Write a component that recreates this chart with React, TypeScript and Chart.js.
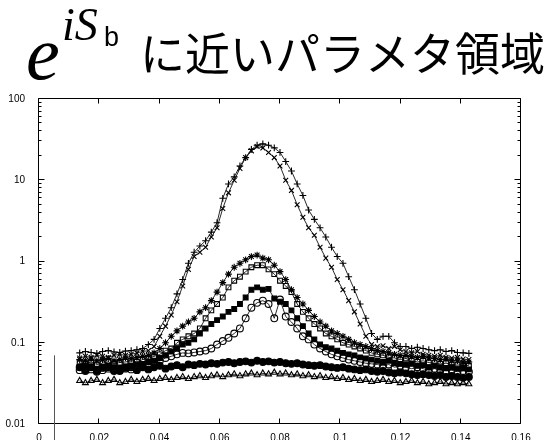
import React, { useEffect, useRef } from "react";
import { Chart, registerables } from "chart.js";

Chart.register(...registerables);

// x positions of the samples
const XS = [
  0.0135, 0.0154, 0.0173, 0.0192, 0.0211, 0.023, 0.0249, 0.0268, 0.0287, 0.0306,
  0.0325, 0.0344, 0.0363, 0.0382, 0.0401, 0.042, 0.0439, 0.0458, 0.0477, 0.0496,
  0.0515, 0.0534, 0.0553, 0.0572, 0.0591, 0.061, 0.0629, 0.0648, 0.0667, 0.0686,
  0.0705, 0.0724, 0.0743, 0.0762, 0.0781, 0.08, 0.0819, 0.0838, 0.0857, 0.0876,
  0.0895, 0.0914, 0.0933, 0.0952, 0.0971, 0.099, 0.1009, 0.1028, 0.1047, 0.1066,
  0.1085, 0.1104, 0.1123, 0.1142, 0.1161, 0.118, 0.1199, 0.1218, 0.1237, 0.1256,
  0.1275, 0.1294, 0.1313, 0.1332, 0.1351, 0.137, 0.1389, 0.1408, 0.1427,
];

const S_PLUS = [
  0.075, 0.078, 0.076, 0.074, 0.078, 0.08, 0.077, 0.076, 0.079, 0.08,
  0.082, 0.085, 0.095, 0.11, 0.15, 0.2, 0.27, 0.4, 0.6, 0.95,
  1.3, 1.55, 1.8, 2.3, 3.0, 6, 9, 11, 15, 19,
  24, 27, 28, 27, 25, 22, 17, 13, 9, 6.5,
  4.3, 3.3, 2.6, 2.0, 1.5, 1.15, 0.95, 0.65, 0.45, 0.3,
  0.2, 0.13, 0.11, 0.12, 0.12, 0.1, 0.09, 0.09, 0.085, 0.088,
  0.085, 0.082, 0.08, 0.082, 0.078, 0.08, 0.076, 0.075, 0.074,
];

const S_CROSS = [
  0.065, 0.068, 0.066, 0.07, 0.068, 0.066, 0.07, 0.072, 0.07, 0.072,
  0.075, 0.078, 0.08, 0.09, 0.12, 0.16, 0.22, 0.32, 0.5, 0.8,
  1.15, 1.3, 1.5, 2.0, 2.6, 4.5, 7, 10, 14, 19,
  23, 26, 25, 22, 19, 15, 10, 7.5, 5, 3.5,
  2.6, 2.1, 1.5, 1.1, 0.85, 0.6, 0.45, 0.33, 0.24, 0.17,
  0.12, 0.095, 0.09, 0.092, 0.085, 0.09, 0.082, 0.078, 0.075, 0.078,
  0.072, 0.07, 0.068, 0.07, 0.066, 0.065, 0.066, 0.063, 0.062,
];

const S_STAR = [
  0.062, 0.06, 0.063, 0.06, 0.062, 0.064, 0.06, 0.062, 0.065, 0.064,
  0.066, 0.068, 0.07, 0.075, 0.085, 0.1, 0.12, 0.14, 0.16, 0.18,
  0.2, 0.24, 0.27, 0.33, 0.42, 0.55, 0.7, 0.85, 0.95, 1.05,
  1.15, 1.2, 1.1, 1.05, 0.9, 0.75, 0.6, 0.45, 0.36, 0.3,
  0.25, 0.21, 0.18, 0.16, 0.14, 0.13, 0.12, 0.11, 0.1, 0.095,
  0.09, 0.085, 0.08, 0.078, 0.075, 0.072, 0.07, 0.07, 0.068, 0.066,
  0.068, 0.065, 0.064, 0.062, 0.063, 0.06, 0.06, 0.058, 0.058,
];

const S_OPEN_SQUARE = [
  0.056, 0.055, 0.058, 0.054, 0.056, 0.058, 0.055, 0.057, 0.058, 0.06,
  0.058, 0.062, 0.064, 0.068, 0.072, 0.08, 0.085, 0.1, 0.11, 0.12,
  0.13, 0.15, 0.2, 0.25, 0.3, 0.36, 0.48, 0.58, 0.65, 0.75,
  0.85, 0.9, 0.9, 0.8, 0.7, 0.58, 0.5, 0.42, 0.3, 0.24,
  0.2, 0.17, 0.15, 0.13, 0.12, 0.11, 0.1, 0.095, 0.09, 0.085,
  0.08, 0.075, 0.072, 0.07, 0.066, 0.065, 0.062, 0.064, 0.06, 0.058,
  0.06, 0.057, 0.056, 0.055, 0.056, 0.054, 0.053, 0.054, 0.052,
];

const S_FILLED_SQUARE = [
  0.05, 0.052, 0.05, 0.048, 0.05, 0.052, 0.05, 0.049, 0.051, 0.052,
  0.054, 0.055, 0.058, 0.06, 0.065, 0.07, 0.078, 0.085, 0.095, 0.1,
  0.11, 0.13, 0.15, 0.17, 0.19, 0.21, 0.24, 0.26, 0.3, 0.36,
  0.45, 0.48, 0.45, 0.46, 0.35, 0.32, 0.3, 0.25, 0.2, 0.16,
  0.13, 0.11, 0.095, 0.088, 0.085, 0.08, 0.075, 0.072, 0.07, 0.066,
  0.064, 0.062, 0.06, 0.058, 0.06, 0.056, 0.055, 0.054, 0.055, 0.052,
  0.053, 0.05, 0.052, 0.05, 0.049, 0.05, 0.048, 0.049, 0.047,
];

const S_OPEN_CIRCLE = [
  0.046, 0.045, 0.047, 0.044, 0.046, 0.048, 0.045, 0.046, 0.048, 0.047,
  0.05, 0.052, 0.055, 0.058, 0.06, 0.065, 0.068, 0.072, 0.075, 0.074,
  0.076, 0.078, 0.08, 0.085, 0.095, 0.105, 0.115, 0.13, 0.15, 0.2,
  0.27, 0.31, 0.33, 0.3, 0.2, 0.34, 0.21, 0.18, 0.15, 0.12,
  0.11, 0.095, 0.085, 0.078, 0.072, 0.068, 0.065, 0.062, 0.06, 0.058,
  0.056, 0.055, 0.054, 0.052, 0.054, 0.05, 0.052, 0.05, 0.048, 0.05,
  0.048, 0.046, 0.048, 0.046, 0.045, 0.046, 0.044, 0.045, 0.044,
];

const S_FILLED_CIRCLE = [
  0.05, 0.046, 0.05, 0.045, 0.049, 0.05, 0.046, 0.045, 0.049, 0.05,
  0.046, 0.05, 0.047, 0.05, 0.052, 0.048, 0.051, 0.053, 0.05, 0.054,
  0.053, 0.055, 0.054, 0.056, 0.055, 0.057, 0.058, 0.056, 0.058, 0.059,
  0.057, 0.06, 0.058, 0.059, 0.057, 0.058, 0.056, 0.055, 0.056, 0.054,
  0.053, 0.052, 0.053, 0.051, 0.05, 0.049, 0.05, 0.048, 0.047, 0.046,
  0.047, 0.045, 0.044, 0.045, 0.043, 0.042, 0.043, 0.042, 0.041, 0.04,
  0.041, 0.04, 0.039, 0.04, 0.038, 0.039, 0.038, 0.037, 0.038,
];

const S_TRIANGLE = [
  0.034, 0.032, 0.034, 0.035, 0.032, 0.034, 0.035, 0.032, 0.033, 0.035,
  0.033, 0.035, 0.036, 0.034, 0.036, 0.037, 0.035, 0.037, 0.038, 0.036,
  0.038, 0.039, 0.037, 0.039, 0.04, 0.038, 0.04, 0.041, 0.039, 0.041,
  0.042, 0.04, 0.042, 0.041, 0.043, 0.041, 0.042, 0.04, 0.041, 0.039,
  0.04, 0.038, 0.039, 0.037, 0.038, 0.036, 0.037, 0.035, 0.036, 0.034,
  0.035, 0.033, 0.034, 0.035, 0.033, 0.034, 0.032, 0.033, 0.034, 0.032,
  0.033, 0.031, 0.032, 0.033, 0.031, 0.032, 0.031, 0.032, 0.031,
];

const X_TICKS = [0, 0.02, 0.04, 0.06, 0.08, 0.1, 0.12, 0.14, 0.16];
const Y_TICKS = [0.01, 0.1, 1, 10, 100];
const Y_MINOR_FACTORS = [2, 3, 4, 5, 6, 7, 8, 9];

// stray vertical stroke seen near the lower-left of the original
const STRAY_X = 0.0053;
const STRAY_TOP = 0.07;

const TITLE_BASE = "e";
const TITLE_SUP = "iS";
const TITLE_SUB = "b";
const TITLE_TEXT = "に近いパラメタ領域";

const SERIES = [
  { data: S_PLUS, style: "cross", fill: false },
  { data: S_CROSS, style: "crossRot", fill: false },
  { data: S_STAR, style: "star", fill: false },
  { data: S_OPEN_SQUARE, style: "rect", fill: false },
  { data: S_FILLED_SQUARE, style: "rect", fill: true },
  { data: S_OPEN_CIRCLE, style: "circle", fill: false },
  { data: S_FILLED_CIRCLE, style: "circle", fill: true },
  { data: S_TRIANGLE, style: "triangle", fill: false },
];

const fmt = (v: number) => String(Number(Number(v).toFixed(3)));

const framePlugin = {
  id: "gnuplotFrame",
  afterDraw(chart: any) {
    const { ctx, chartArea, scales } = chart;
    const x = scales.x;
    const y = scales.y;
    const L = Math.round(chartArea.left) - 0.5;
    const R = Math.round(chartArea.right) - 0.5;
    const T = Math.round(chartArea.top) - 0.5;
    const B = Math.round(chartArea.bottom) - 0.5;
    ctx.save();
    ctx.strokeStyle = "#000";
    ctx.lineWidth = 1;
    ctx.beginPath();
    ctx.rect(L, T, R - L, B - T);
    Y_TICKS.forEach((d) => {
      const p = Math.round(y.getPixelForValue(d)) - 0.5;
      ctx.moveTo(L, p);
      ctx.lineTo(L + 6, p);
      ctx.moveTo(R, p);
      ctx.lineTo(R - 6, p);
      if (d < 100) {
        Y_MINOR_FACTORS.forEach((m) => {
          const q = Math.round(y.getPixelForValue(d * m)) - 0.5;
          ctx.moveTo(L, q);
          ctx.lineTo(L + 3, q);
          ctx.moveTo(R, q);
          ctx.lineTo(R - 3, q);
        });
      }
    });
    X_TICKS.forEach((v) => {
      const p = Math.round(x.getPixelForValue(v)) - 0.5;
      ctx.moveTo(p, B);
      ctx.lineTo(p, B - 5);
      ctx.moveTo(p, T);
      ctx.lineTo(p, T + 5);
    });
    ctx.stroke();

    ctx.strokeStyle = "#555";
    ctx.beginPath();
    const sx = Math.round(x.getPixelForValue(STRAY_X)) - 0.5;
    ctx.moveTo(sx, y.getPixelForValue(STRAY_TOP));
    ctx.lineTo(sx, chart.height);
    ctx.stroke();

    ctx.fillStyle = "#000";
    ctx.textBaseline = "alphabetic";
    ctx.textAlign = "left";
    ctx.font = 'italic 76px "Liberation Serif", serif';
    ctx.fillText(TITLE_BASE, 26, 79);
    ctx.font = 'italic 46px "Liberation Serif", serif';
    ctx.fillText(TITLE_SUP, 62, 40);
    ctx.font = '27px "Liberation Sans", sans-serif';
    ctx.fillText(TITLE_SUB, 104, 46);
    ctx.font = '45px "Noto Sans CJK JP", sans-serif';
    ctx.fillText(TITLE_TEXT, 140, 71);
    ctx.restore();
  },
};

export default function App() {
  const ref = useRef<HTMLCanvasElement | null>(null);

  useEffect(() => {
    if (!ref.current) return;
    const datasets = SERIES.map((s) => ({
      data: XS.map((xv, i) => ({ x: xv, y: s.data[i] })),
      showLine: true,
      borderColor: "#111",
      borderWidth: 0.9,
      tension: 0,
      pointStyle: s.style,
      pointRadius: 3.4,
      pointBorderColor: "#000",
      pointBorderWidth: 1.1,
      pointBackgroundColor: s.fill ? "#000" : "rgba(0,0,0,0)",
    }));
    const tickFont = { family: '"Liberation Sans", Arial, sans-serif', size: 10 };
    const chart = new Chart(ref.current, {
      type: "line",
      data: { datasets: datasets as any },
      options: {
        responsive: false,
        animation: false,
        devicePixelRatio: 1,
        layout: { padding: { top: 99, right: 35, left: 0, bottom: 0 } },
        plugins: {
          legend: { display: false },
          tooltip: { enabled: false },
          title: { display: false },
        },
        scales: {
          x: {
            type: "linear",
            min: 0,
            max: 0.16,
            grid: { display: false },
            border: { display: false },
            afterBuildTicks: (s: any) => {
              s.ticks = X_TICKS.map((v) => ({ value: v }));
            },
            afterFit: (s: any) => {
              s.height = 16;
            },
            ticks: {
              padding: 0,
              color: "#000",
              font: tickFont,
              maxRotation: 0,
              autoSkip: false,
              callback: (v: any) => fmt(v),
            },
          },
          y: {
            type: "logarithmic",
            min: 0.01,
            max: 100,
            grid: { display: false },
            border: { display: false },
            afterBuildTicks: (s: any) => {
              s.ticks = Y_TICKS.map((v) => ({ value: v }));
            },
            afterFit: (s: any) => {
              s.width = 39;
            },
            ticks: {
              padding: 6,
              color: "#000",
              font: tickFont,
              autoSkip: false,
              callback: (v: any) => fmt(v),
            },
          },
        },
      } as any,
      plugins: [framePlugin],
    });
    return () => chart.destroy();
  }, []);

  return (
    <div style={{ position: "absolute", left: 0, top: 0, width: 556, height: 440, background: "#fff" }}>
      <canvas ref={ref} width={556} height={440} style={{ display: "block" }} />
    </div>
  );
}
